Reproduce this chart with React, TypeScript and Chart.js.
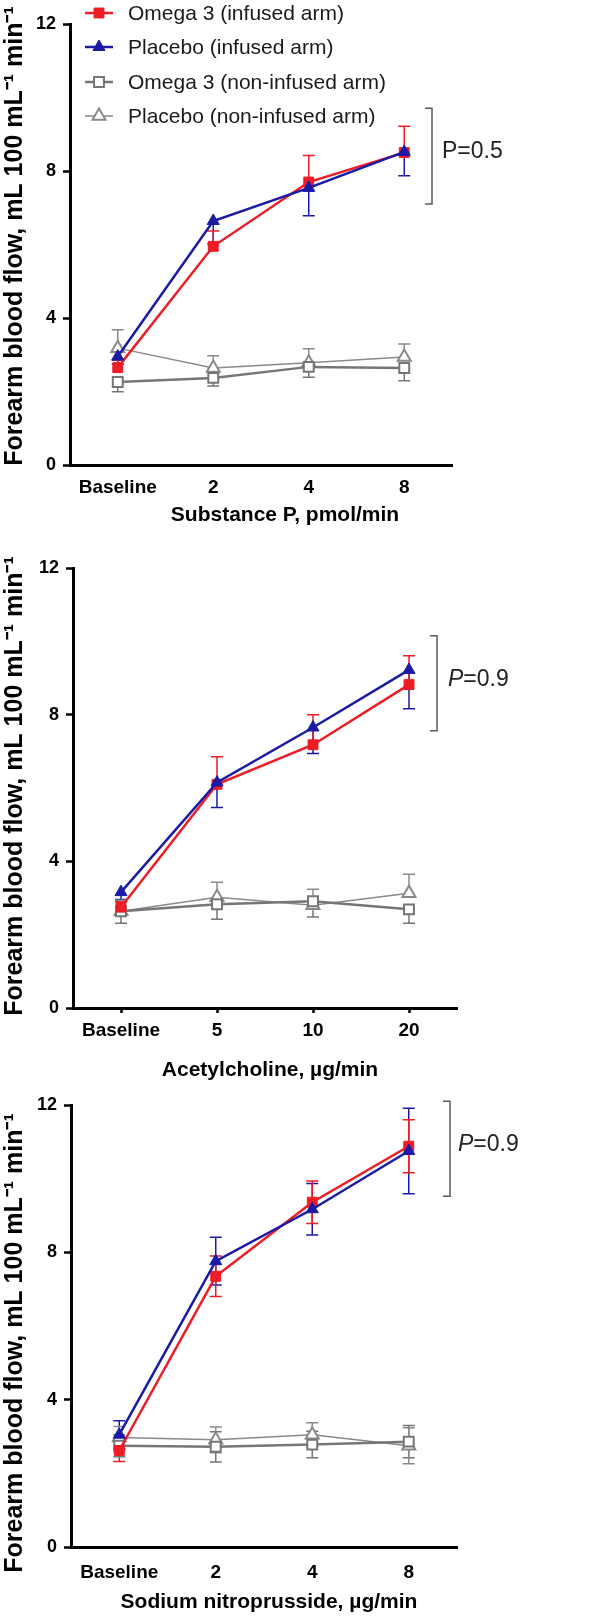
import React, { useEffect, useRef } from "react";
import { Chart, registerables } from "chart.js";

Chart.register(...registerables);

const FONT = "'Liberation Sans', Arial, Helvetica, sans-serif";

// ---------- shared text ----------
const legendLabels = [
  "Omega 3 (infused arm)",
  "Placebo (infused arm)",
  "Omega 3 (non-infused arm)",
  "Placebo (non-infused arm)",
];
const yTitle = "Forearm blood flow, mL 100 mL\u207B\u00B9 min\u207B\u00B9";
const yMin = 0;
const yMax = 12;
const yStep = 4;

// ---------- Panel 1: Substance P ----------
const spCategories = ["Baseline", "2", "4", "8"];
const spTitle = "Substance P, pmol/min";
const spOmegaInf = [2.65, 5.95, 7.7, 8.5];
const spOmegaInfErr = [0.2, 0.42, 0.72, 0.72];
const spPlaceboInf = [2.95, 6.64, 7.54, 8.52];
const spPlaceboInfErr = [0.2, 0.62, 0.76, 0.65];
const spOmegaNon = [2.26, 2.37, 2.67, 2.64];
const spOmegaNonErr = [0.27, 0.22, 0.28, 0.35];
const spPlaceboNon = [3.18, 2.64, 2.78, 2.94];
const spPlaceboNonErr = [0.5, 0.33, 0.38, 0.35];
const spBracket = [9.71, 7.1];
const spP = "0.5";

// ---------- Panel 2: Acetylcholine ----------
const achCategories = ["Baseline", "5", "10", "20"];
const achTitle = "Acetylcholine, \u00B5g/min";
const achOmegaInf = [2.75, 6.1, 7.18, 8.82];
const achOmegaInfErr = [0.15, 0.75, 0.82, 0.79];
const achPlaceboInf = [3.16, 6.15, 7.65, 9.22];
const achPlaceboInfErr = [0.2, 0.68, 0.71, 1.06];
const achOmegaNon = [2.64, 2.83, 2.91, 2.69];
const achOmegaNonErr = [0.33, 0.41, 0.43, 0.38];
const achPlaceboNon = [2.64, 3.02, 2.8, 3.13];
const achPlaceboNonErr = [0.3, 0.41, 0.44, 0.52];
const achBracket = [10.15, 7.56];
const achP = "0.9";

// ---------- Panel 3: Sodium nitroprusside ----------
const snpCategories = ["Baseline", "2", "4", "8"];
const snpTitle = "Sodium nitroprusside, \u00B5g/min";
const snpOmegaInf = [2.62, 7.35, 9.36, 10.88];
const snpOmegaInfErr = [0.3, 0.55, 0.58, 0.72];
const snpPlaceboInf = [3.05, 7.76, 9.17, 10.75];
const snpPlaceboInfErr = [0.38, 0.65, 0.7, 1.16];
const snpOmegaNon = [2.75, 2.72, 2.78, 2.86];
const snpOmegaNonErr = [0.3, 0.41, 0.36, 0.44];
const snpPlaceboNon = [2.97, 2.91, 3.05, 2.75];
const snpPlaceboNonErr = [0.3, 0.35, 0.32, 0.49];
const snpBracket = [12.1, 9.52];
const snpP = "0.9";

// ---------- styles ----------
const RED = "#ee1c24";
const BLUE = "#1a1aa6";
const GRAY1 = "#767676";
const GRAY2 = "#8a8a8a";

type Dir = "up" | "down" | "both";

function drawMarker(ctx: CanvasRenderingContext2D, style: string, x: number, y: number, r: number, fill: string, stroke: string, bw: number) {
  ctx.beginPath();
  if (style === "rect") {
    const s = Math.SQRT1_2 * r;
    ctx.rect(x - s, y - s, 2 * s, 2 * s);
  } else {
    ctx.moveTo(x, y - r);
    ctx.lineTo(x + 0.866 * r, y + 0.5 * r);
    ctx.lineTo(x - 0.866 * r, y + 0.5 * r);
    ctx.closePath();
  }
  ctx.fillStyle = fill;
  ctx.fill();
  ctx.lineWidth = bw;
  ctx.strokeStyle = stroke;
  ctx.stroke();
}

const errorBarPlugin = {
  id: "errbars",
  beforeDatasetsDraw(chart: any) {
    const ctx = chart.ctx;
    const ys = chart.scales.y;
    chart.data.datasets.forEach((ds: any, i: number) => {
      const meta = chart.getDatasetMeta(i);
      if (!ds.errors) return;
      const dir: Dir = ds.errDir;
      ctx.save();
      ctx.strokeStyle = ds.borderColor;
      ctx.lineWidth = 1.5;
      meta.data.forEach((pt: any, j: number) => {
        const v = ds.data[j];
        const e = ds.errors[j];
        const x = pt.x;
        const yTop = ys.getPixelForValue(v + (dir !== "down" ? e : 0));
        const yBot = ys.getPixelForValue(v - (dir !== "up" ? e : 0));
        ctx.beginPath();
        ctx.moveTo(x, yTop);
        ctx.lineTo(x, yBot);
        if (dir !== "down") {
          ctx.moveTo(x - 6, yTop);
          ctx.lineTo(x + 6, yTop);
        }
        if (dir !== "up") {
          ctx.moveTo(x - 6, yBot);
          ctx.lineTo(x + 6, yBot);
        }
        ctx.stroke();
      });
      ctx.restore();
    });
  },
};

const annotationPlugin = {
  id: "annot",
  afterDraw(chart: any, _args: any, opts: any) {
    const ctx = chart.ctx;
    const ys = chart.scales.y;
    const area = chart.chartArea;
    ctx.save();
    // axis titles
    ctx.fillStyle = "#000";
    ctx.textAlign = "center";
    ctx.textBaseline = "middle";
    ctx.font = `bold 21px ${FONT}`;
    ctx.fillText(opts.xTitle, opts.xTitlePos[0], opts.xTitlePos[1]);
    ctx.save();
    ctx.translate(opts.yTitlePos[0], opts.yTitlePos[1]);
    ctx.rotate(-Math.PI / 2);
    ctx.font = `bold 25px ${FONT}`;
    ctx.fillText(yTitle, 0, 0);
    ctx.restore();
    // bracket
    const bx = area.right + opts.bracketDx;
    const yT = ys.getPixelForValue(opts.bracket[0]);
    const yB = ys.getPixelForValue(opts.bracket[1]);
    ctx.strokeStyle = "#5a5a5a";
    ctx.lineWidth = 1.5;
    ctx.beginPath();
    ctx.moveTo(bx - 7, yT);
    ctx.lineTo(bx, yT);
    ctx.lineTo(bx, yB);
    ctx.lineTo(bx - 7, yB);
    ctx.stroke();
    // P text
    const ty = (yT + yB) / 2 - 4;
    let tx = bx + opts.textDx;
    ctx.fillStyle = "#222";
    ctx.textBaseline = "middle";
    ctx.textAlign = "left";
    ctx.font = `${opts.italicP ? "italic " : ""}23px ${FONT}`;
    ctx.fillText("P", tx, ty);
    tx += ctx.measureText("P").width;
    ctx.font = `23px ${FONT}`;
    ctx.fillText("=" + opts.p, tx, ty);
    // legend
    if (opts.legend) {
      const rows = [13, 47, 82, 116];
      chart.data.datasets.forEach((ds: any) => {
        const y = rows[ds.legendIndex];
        ctx.strokeStyle = ds.borderColor;
        ctx.lineWidth = ds.borderWidth;
        ctx.beginPath();
        ctx.moveTo(85, y);
        ctx.lineTo(113, y);
        ctx.stroke();
        drawMarker(ctx, ds.pointStyle, 99, y, ds.pointRadius, ds.pointBackgroundColor, ds.pointBorderColor, ds.pointBorderWidth);
        ctx.fillStyle = "#1a1a1a";
        ctx.font = `21px ${FONT}`;
        ctx.textBaseline = "middle";
        ctx.textAlign = "left";
        ctx.fillText(ds.label, 128, y + 1);
      });
    }
    ctx.restore();
  },
};

type PanelCfg = {
  top: number;
  height: number;
  area: { left: number; top: number; right: number; bottom: number };
  categories: string[];
  xTitle: string;
  xTitlePos: number[];
  yTitlePos: number[];
  series: { omegaInf: number[]; omegaInfErr: number[]; placeboInf: number[]; placeboInfErr: number[]; omegaNon: number[]; omegaNonErr: number[]; placeboNon: number[]; placeboNonErr: number[] };
  infDirs: [Dir, Dir];
  nonDirs: [Dir, Dir];
  xTicks: boolean;
  xTickPad: number;
  bracket: number[];
  bracketDx: number;
  textDx: number;
  p: string;
  italicP: boolean;
  legend: boolean;
};

function Panel({ cfg }: { cfg: PanelCfg }) {
  const ref = useRef<HTMLCanvasElement | null>(null);
  useEffect(() => {
    if (!ref.current) return;
    const s = cfg.series;
    const datasets: any[] = [
      {
        label: legendLabels[1], legendIndex: 1, data: s.placeboInf, errors: s.placeboInfErr, errDir: cfg.infDirs[1],
        borderColor: BLUE, backgroundColor: BLUE, borderWidth: 2.5,
        pointStyle: "triangle", pointRadius: 7, pointBackgroundColor: BLUE, pointBorderColor: BLUE, pointBorderWidth: 1,
        order: 0,
      },
      {
        label: legendLabels[0], legendIndex: 0, data: s.omegaInf, errors: s.omegaInfErr, errDir: cfg.infDirs[0],
        borderColor: RED, backgroundColor: RED, borderWidth: 2.5,
        pointStyle: "rect", pointRadius: 7, pointBackgroundColor: RED, pointBorderColor: RED, pointBorderWidth: 1,
        order: 1,
      },
      {
        label: legendLabels[2], legendIndex: 2, data: s.omegaNon, errors: s.omegaNonErr, errDir: cfg.nonDirs[0],
        borderColor: GRAY1, backgroundColor: "#ffffff", borderWidth: 2.5,
        pointStyle: "rect", pointRadius: 7, pointBackgroundColor: "#ffffff", pointBorderColor: GRAY1, pointBorderWidth: 2,
        order: 2,
      },
      {
        label: legendLabels[3], legendIndex: 3, data: s.placeboNon, errors: s.placeboNonErr, errDir: cfg.nonDirs[1],
        borderColor: GRAY2, backgroundColor: "#ffffff", borderWidth: 1.5,
        pointStyle: "triangle", pointRadius: 7.5, pointBackgroundColor: "#ffffff", pointBorderColor: GRAY2, pointBorderWidth: 2,
        order: 3,
      },
    ];
    const H = cfg.height;
    const area = cfg.area;
    const chart = new Chart(ref.current, {
      type: "line",
      data: { labels: cfg.categories, datasets },
      options: {
        animation: false,
        responsive: false,
        maintainAspectRatio: false,
        events: [],
        elements: { line: { tension: 0 } },
        layout: { padding: { left: 0, top: area.top, right: 600 - area.right, bottom: 0 } },
        plugins: {
          legend: { display: false },
          tooltip: { enabled: false },
          annot: {
            bracket: cfg.bracket, bracketDx: cfg.bracketDx, textDx: cfg.textDx,
            p: cfg.p, italicP: cfg.italicP, legend: cfg.legend,
            xTitle: cfg.xTitle, xTitlePos: cfg.xTitlePos, yTitlePos: cfg.yTitlePos,
          },
        } as any,
        scales: {
          x: {
            type: "category",
            offset: true,
            grid: { display: true, drawOnChartArea: false, drawTicks: cfg.xTicks, tickLength: 5, tickWidth: 2.5, tickColor: "#000" },
            border: { display: true, color: "#000", width: 3 },
            ticks: { color: "#000", font: { family: FONT, size: 19, weight: "bold" }, padding: cfg.xTickPad, maxRotation: 0, autoSkip: false },
            title: { display: false },
            afterFit: (sc: any) => { sc.height = H - area.bottom; },
          },
          y: {
            min: yMin,
            max: yMax,
            grid: { display: true, drawOnChartArea: false, drawTicks: true, tickLength: 7, tickWidth: 2.5, tickColor: "#000" },
            border: { display: true, color: "#000", width: 3 },
            ticks: { stepSize: yStep, color: "#000", font: { family: FONT, size: 18, weight: "bold" }, padding: 7 },
            title: { display: false },
            afterFit: (sc: any) => { sc.width = area.left; },
          },
        },
      } as any,
      plugins: [errorBarPlugin, annotationPlugin],
    });
    return () => chart.destroy();
  }, [cfg]);
  return (
    <div style={{ position: "absolute", left: 0, top: cfg.top, width: 600, height: cfg.height }}>
      <canvas ref={ref} width={600} height={cfg.height} style={{ display: "block", width: 600, height: cfg.height }} />
    </div>
  );
}

const panels: PanelCfg[] = [
  {
    top: 0, height: 530,
    area: { left: 70, top: 24, right: 452, bottom: 465 },
    categories: spCategories, xTitle: spTitle, xTitlePos: [285, 515], yTitlePos: [15, 236],
    series: { omegaInf: spOmegaInf, omegaInfErr: spOmegaInfErr, placeboInf: spPlaceboInf, placeboInfErr: spPlaceboInfErr, omegaNon: spOmegaNon, omegaNonErr: spOmegaNonErr, placeboNon: spPlaceboNon, placeboNonErr: spPlaceboNonErr },
    infDirs: ["up", "down"], nonDirs: ["down", "up"],
    xTicks: false, xTickPad: 11,
    bracket: spBracket, bracketDx: -20, textDx: 10, p: spP, italicP: false, legend: true,
  },
  {
    top: 530, height: 555,
    area: { left: 73, top: 38, right: 457, bottom: 478 },
    categories: achCategories, xTitle: achTitle, xTitlePos: [270, 540], yTitlePos: [15, 256],
    series: { omegaInf: achOmegaInf, omegaInfErr: achOmegaInfErr, placeboInf: achPlaceboInf, placeboInfErr: achPlaceboInfErr, omegaNon: achOmegaNon, omegaNonErr: achOmegaNonErr, placeboNon: achPlaceboNon, placeboNonErr: achPlaceboNonErr },
    infDirs: ["up", "down"], nonDirs: ["down", "up"],
    xTicks: true, xTickPad: 6,
    bracket: achBracket, bracketDx: -20, textDx: 11, p: achP, italicP: true, legend: false,
  },
  {
    top: 1085, height: 532,
    area: { left: 71, top: 20, right: 457, bottom: 462 },
    categories: snpCategories, xTitle: snpTitle, xTitlePos: [269, 517], yTitlePos: [15, 258],
    series: { omegaInf: snpOmegaInf, omegaInfErr: snpOmegaInfErr, placeboInf: snpPlaceboInf, placeboInfErr: snpPlaceboInfErr, omegaNon: snpOmegaNon, omegaNonErr: snpOmegaNonErr, placeboNon: snpPlaceboNon, placeboNonErr: snpPlaceboNonErr },
    infDirs: ["both", "both"], nonDirs: ["both", "both"],
    xTicks: false, xTickPad: 14,
    bracket: snpBracket, bracketDx: -7, textDx: 8, p: snpP, italicP: true, legend: false,
  },
];

export default function App() {
  return (
    <div style={{ position: "absolute", left: 0, top: 0, width: 600, height: 1617, background: "#fff" }}>
      {panels.map((p, i) => (
        <Panel key={i} cfg={p} />
      ))}
    </div>
  );
}
